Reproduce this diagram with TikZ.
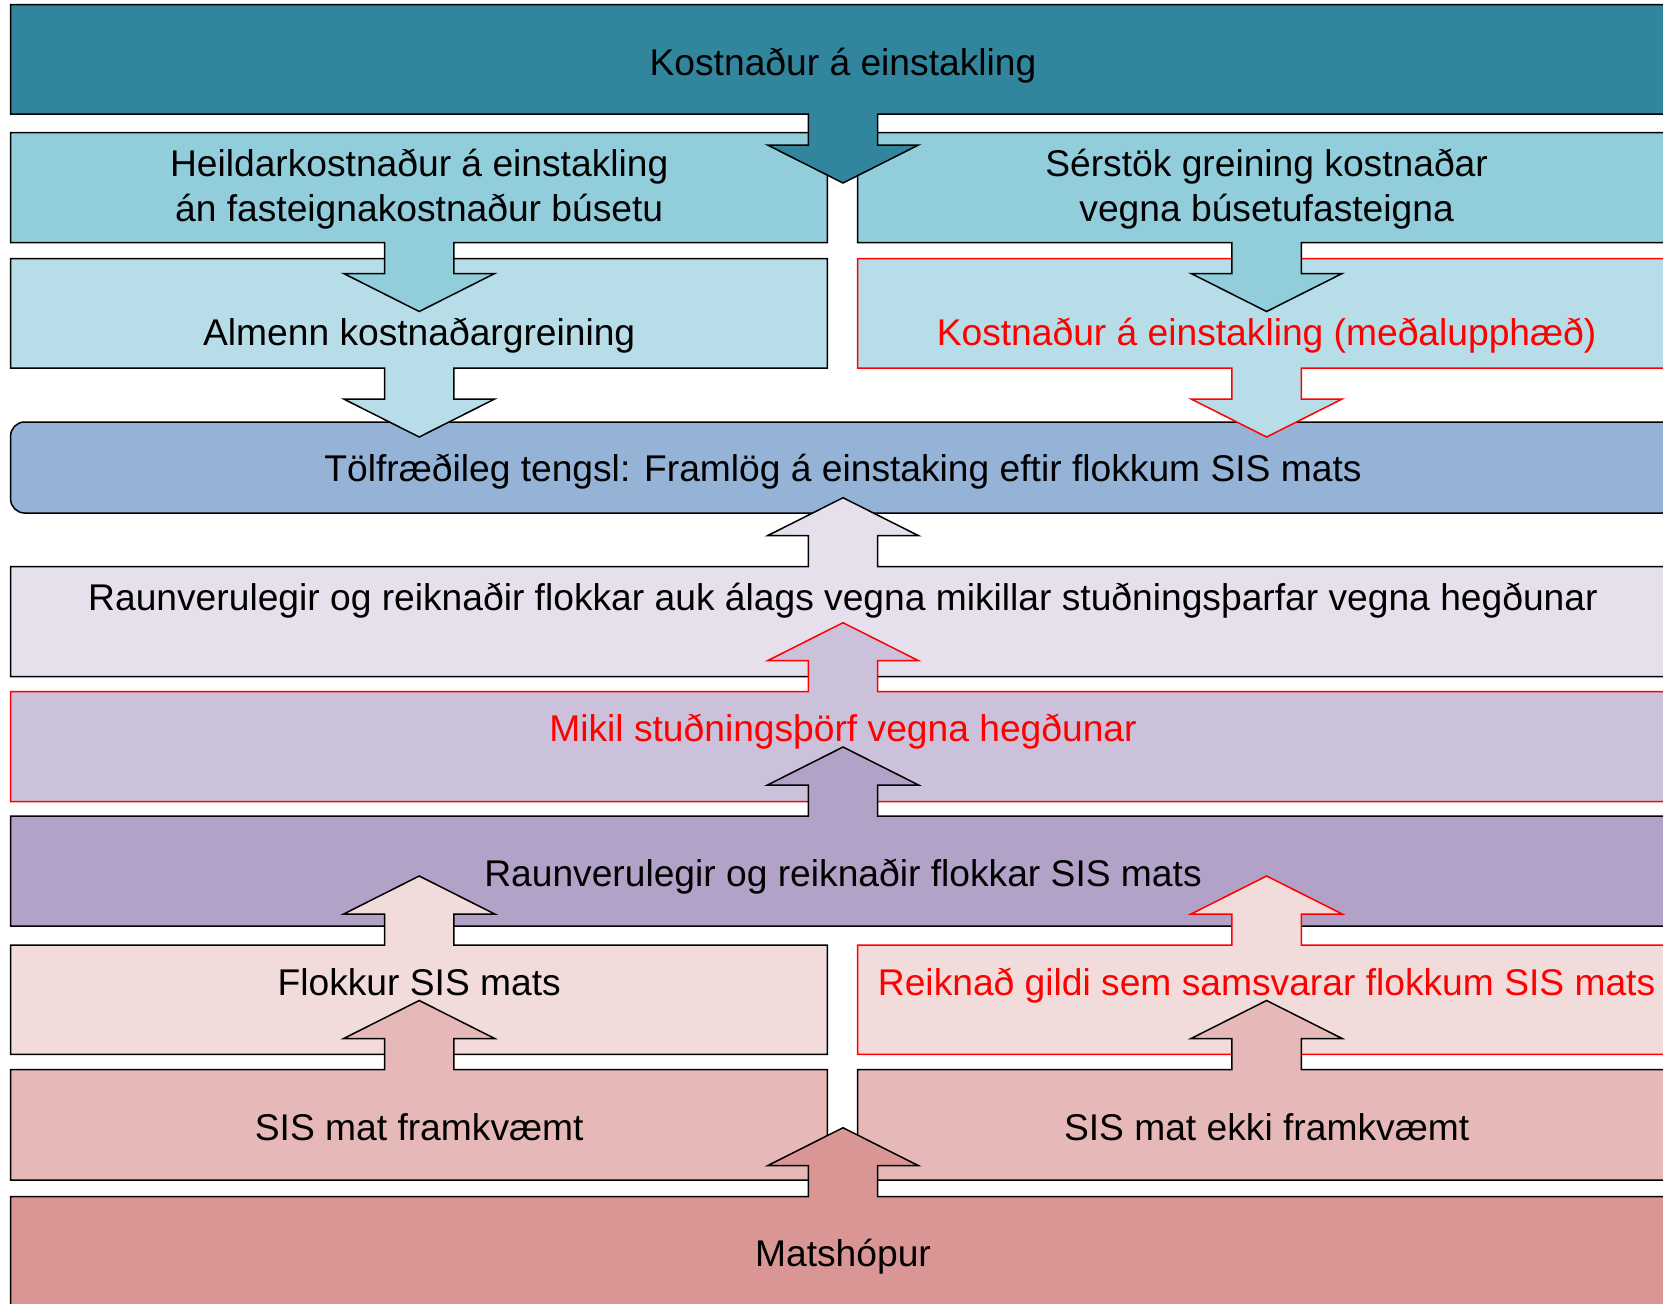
\documentclass[tikz,border=0pt]{standalone}
\usepackage{fontspec}
\setmainfont{Liberation Sans}
\definecolor{cTop}{HTML}{31859C}
\definecolor{cRowB}{HTML}{92CDDC}
\definecolor{cRowC}{HTML}{B7DDE8}
\definecolor{cRound}{HTML}{95B3D7}
\definecolor{cRaunH}{HTML}{E5E0EC}
\definecolor{cMikil}{HTML}{CCC1DA}
\definecolor{cRaunSIS}{HTML}{B2A2C7}
\definecolor{cFlokk}{HTML}{F2DCDB}
\definecolor{cSIS}{HTML}{E6B9B8}
\definecolor{cMats}{HTML}{D99694}
\definecolor{cRed}{HTML}{FF0000}
\newcommand\dnblock[7]{\filldraw[shp,fill=#6,draw=#7] (#1,#2) -- (#3,#2) -- (#3,#4) -- ({#5+34.7},#4) -- ({#5+34.7},{#4+31}) -- ({#5+75.5},{#4+31}) -- (#5,{#4+69}) -- ({#5-75.5},{#4+31}) -- ({#5-34.7},{#4+31}) -- ({#5-34.7},#4) -- (#1,#4) -- cycle;}
\newcommand\upblock[7]{\filldraw[shp,fill=#6,draw=#7] (#1,#2) -- ({#5-34.7},#2) -- ({#5-34.7},{#2-31}) -- ({#5-75.5},{#2-31}) -- (#5,{#2-69}) -- ({#5+75.5},{#2-31}) -- ({#5+34.7},{#2-31}) -- ({#5+34.7},#2) -- (#3,#2) -- (#3,#4) -- (#1,#4) -- cycle;}
\begin{document}
\begin{tikzpicture}[x=1pt,y=-1pt,
  txt/.style={anchor=base,inner sep=0pt,font=\fontsize{37.2}{45}\selectfont},
  redtxt/.style={txt,text=cRed},
  shp/.style={line width=1.5pt,line join=miter}]
\useasboundingbox (0,0) rectangle (1663,1304);
\clip (0,0) rectangle (1663,1304);
% statistical relation box
\filldraw[shp,fill=cRound,draw=black,rounded corners=14pt] (10.6,422) rectangle (1676,513);
\node[txt] (tolf) at (843,481) {Tölfræðileg tengsl: Framlög á einstaking eftir flokkum SIS mats};
% upward chain
\upblock{10.6}{566.7}{1676}{676.7}{843}{cRaunH}{black}
\node[txt] (raunH) at (843,610.7) {Raunverulegir og reiknaðir flokkar auk álags vegna mikillar stuðningsþarfar vegna hegðunar};
\upblock{10.6}{691.7}{1676}{801.7}{843}{cMikil}{cRed}
\node[redtxt] (mikil) at (843,741) {Mikil stuðningsþörf vegna hegðunar};
\upblock{10.6}{816}{1676}{926}{843}{cRaunSIS}{black}
\node[txt] (raunSIS) at (843,886) {Raunverulegir og reiknaðir flokkar SIS mats};
\upblock{10.6}{945}{827.3}{1054.3}{419.2}{cFlokk}{black}
\node[txt] (flokk) at (419.2,995) {Flokkur SIS mats};
\upblock{857.5}{945}{1676}{1054.3}{1266.6}{cFlokk}{cRed}
\node[redtxt] (reikn) at (1266.6,995) {Reiknað gildi sem samsvarar flokkum SIS mats};
\upblock{10.6}{1069.5}{827.3}{1180}{419.2}{cSIS}{black}
\node[txt] (sisA) at (419.2,1140) {SIS mat framkvæmt};
\upblock{857.5}{1069.5}{1676}{1180}{1266.6}{cSIS}{black}
\node[txt] (sisB) at (1266.6,1140) {SIS mat ekki framkvæmt};
\upblock{10.6}{1196.7}{1676}{1340}{843}{cMats}{black}
\node[txt] (mats) at (843,1266.7) {Matshópur};
% downward chain
\dnblock{10.6}{258.5}{827.3}{368}{419.2}{cRowC}{black}
\node[txt] (almenn) at (419.2,345) {Almenn kostnaðargreining};
\dnblock{857.5}{258.5}{1676}{368}{1266.6}{cRowC}{cRed}
\node[redtxt] (medal) at (1266.6,345) {Kostnaður á einstakling (meðalupphæð)};
\dnblock{10.6}{132.7}{827.3}{242.5}{419.2}{cRowB}{black}
\node[txt] (heildA) at (419.2,176.7) {Heildarkostnaður á einstakling};
\node[txt] (heildB) at (419.2,221.7) {án fasteignakostnaður búsetu};
\dnblock{857.5}{132.7}{1676}{242.5}{1266.6}{cRowB}{black}
\node[txt] (serA) at (1266.6,176.7) {Sérstök greining kostnaðar};
\node[txt] (serB) at (1266.6,221.7) {vegna búsetufasteigna};
\dnblock{10.6}{4.6}{1676}{114}{843}{cTop}{black}
\node[txt] (top) at (843,75) {Kostnaður á einstakling};
\end{tikzpicture}
\end{document}
